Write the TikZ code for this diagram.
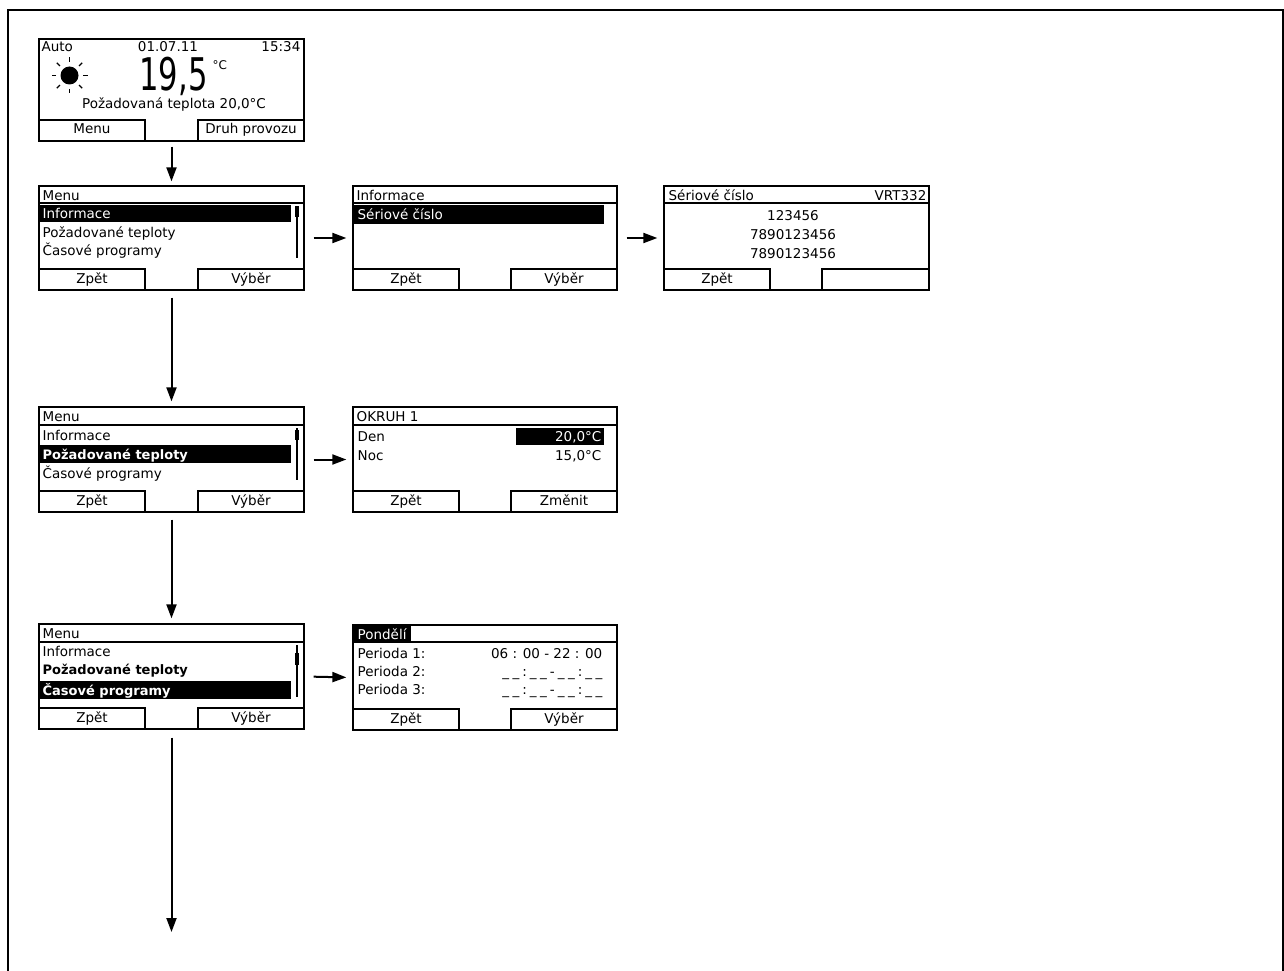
\documentclass[tikz,border=0pt]{standalone}
\usepackage{graphicx}
\usepackage{fontspec}
\setmainfont{DejaVu Sans}
\usetikzlibrary{arrows.meta,positioning}

\newcommand{\blank}{\_\kern3.5pt\_}

\begin{document}
\begin{tikzpicture}[x=1pt, y=-1pt, line width=1.3pt,
    screen/.style={draw,rectangle,minimum width=265pt,minimum height=104pt,inner sep=0pt},
    softkey/.style={draw,rectangle,minimum width=106pt,minimum height=21pt,inner sep=0pt,
                    text height=9.5pt,text depth=2.5pt,font=\fontsize{13.5}{13.5}\selectfont},
    txt/.style={inner sep=0pt,font=\fontsize{13.5}{13.5}\selectfont},
    hl/.style={txt,text=white},
    go/.style={-{Triangle[length=14pt,width=10pt]},line width=2pt}]

  \useasboundingbox (0,0) rectangle (1284,971);
  \draw[line width=2.5pt] (8,985) -- (8,10) -- (1283,10) -- (1283,985);

  % home screen
  \node[screen,minimum height=102pt] (home) at (171.5,90) {};
  \node[txt,anchor=base west] (auto) at (41,52) {Auto};
  \node[txt,anchor=base] (date) at (168,52) {01.07.11};
  \node[txt,anchor=base east] (time) at (301,52) {15:34};
  \fill (69.5,75.5) circle (9pt);
  \foreach \a in {0,45,...,315}
    \draw[line width=1.3pt] (69.5,75.5) ++(\a:13.5) -- ++(\a:4.5);
  \node[inner sep=0pt,anchor=base,text depth=0pt] (temp) at (173.5,91)
    {\scalebox{0.68}[1]{\fontsize{45}{45}\selectfont 19,5}};
  \node[inner sep=0pt,anchor=base west,font=\fontsize{12}{12}\selectfont] (unit) at (212,70) {°C};
  \node[txt,anchor=base] (setp) at (174,109) {Požadovaná teplota 20,0°C};
  \node[softkey,anchor=south west] (home-l) at (home.south west) {Menu};
  \node[softkey,anchor=south east] (home-r) at (home.south east) {Druh provozu};

  % menu, Informace
  \node[screen] (menuA) at (171.5,238) {};
  \draw (39,203) -- (304,203);
  \node[txt,anchor=base west] (menuA-t) at (42,200) {Menu};
  \fill (40,205) rectangle (291,222);
  \node[hl,anchor=base west] (menuA-1) at (42,218) {Informace};
  \node[txt,anchor=base west] (menuA-2) at (42,237) {Požadované teploty};
  \node[txt,anchor=base west] (menuA-3) at (42,255) {Časové programy};
  \draw (297,206) -- (297,258);
  \fill (295,206) rectangle (299,217);
  \node[softkey,anchor=south west] (menuA-l) at (menuA.south west) {Zpět};
  \node[softkey,anchor=south east] (menuA-r) at (menuA.south east) {Výběr};

  % Informace
  \node[screen,minimum width=264pt] (info) at (485,238) {};
  \draw (353,203) -- (617,203);
  \node[txt,anchor=base west] (info-t) at (356,200) {Informace};
  \fill (354,205) rectangle (604,224);
  \node[hl,anchor=base west] (info-1) at (357,219) {Sériové číslo};
  \node[softkey,anchor=south west] (info-l) at (info.south west) {Zpět};
  \node[softkey,anchor=south east] (info-r) at (info.south east) {Výběr};

  % serial number
  \node[screen] (serial) at (796.5,238) {};
  \draw (664,203) -- (929,203);
  \node[txt,anchor=base west] (serial-t) at (668,200) {Sériové číslo};
  \node[txt,anchor=base east] (serial-v) at (927,200) {VRT332};
  \node[txt,anchor=base] (serial-1) at (793,220) {123456};
  \node[txt,anchor=base] (serial-2) at (793,239) {7890123456};
  \node[txt,anchor=base] (serial-3) at (793,258) {7890123456};
  \node[softkey,anchor=south west] (serial-l) at (serial.south west) {Zpět};
  \node[softkey,anchor=south east,minimum width=107pt] (serial-r) at (serial.south east) {};

  % menu, Pozadovane teploty
  \node[screen,minimum height=105pt] (menuB) at (171.5,459.5) {};
  \draw (39,425) -- (304,425);
  \node[txt,anchor=base west] (menuB-t) at (42,421) {Menu};
  \node[txt,anchor=base west] (menuB-1) at (42,440) {Informace};
  \fill (40,445) rectangle (291,463);
  \node[hl,anchor=base west,font=\fontsize{13}{13}\bfseries] (menuB-2) at (42,459) {Požadované teploty};
  \node[txt,anchor=base west] (menuB-3) at (42,478) {Časové programy};
  \draw (297,428) -- (297,480);
  \fill (295,430) rectangle (299,440);
  \node[softkey,anchor=south west] (menuB-l) at (menuB.south west) {Zpět};
  \node[softkey,anchor=south east] (menuB-r) at (menuB.south east) {Výběr};

  % OKRUH 1
  \node[screen,minimum width=264pt,minimum height=105pt] (okruh) at (485,459.5) {};
  \draw (353,425) -- (617,425);
  \node[txt,anchor=base west] (okruh-t) at (356,421) {OKRUH 1};
  \node[txt,anchor=base west] (okruh-1) at (357,441) {Den};
  \fill (516,428) rectangle (604,445);
  \node[hl,anchor=base east] (okruh-1v) at (602,441) {20,0°C};
  \node[txt,anchor=base west] (okruh-2) at (357,460) {Noc};
  \node[txt,anchor=base east] (okruh-2v) at (602,460) {15,0°C};
  \node[softkey,anchor=south west] (okruh-l) at (okruh.south west) {Zpět};
  \node[softkey,anchor=south east] (okruh-r) at (okruh.south east) {Změnit};

  % menu, Casove programy
  \node[screen,minimum height=105pt] (menuC) at (171.5,676.5) {};
  \draw (39,642) -- (304,642);
  \node[txt,anchor=base west] (menuC-t) at (42,638) {Menu};
  \node[txt,anchor=base west] (menuC-1) at (42,656) {Informace};
  \node[txt,anchor=base west,font=\fontsize{13}{13}\bfseries] (menuC-2) at (42,674) {Požadované teploty};
  \fill (40,681) rectangle (291,699);
  \node[hl,anchor=base west,font=\fontsize{13}{13}\bfseries] (menuC-3) at (42,695) {Časové programy};
  \draw (297,645) -- (297,697);
  \fill (295,653) rectangle (299,665);
  \node[softkey,anchor=south west] (menuC-l) at (menuC.south west) {Zpět};
  \node[softkey,anchor=south east] (menuC-r) at (menuC.south east) {Výběr};

  % Pondeli
  \node[screen,minimum width=264pt,minimum height=105pt] (pond) at (485,677.5) {};
  \draw (353,642) -- (617,642);
  \fill (353,625) rectangle (411,642);
  \node[hl,anchor=base west] (pond-t) at (357,639) {Pondělí};
  \node[txt,anchor=base west] (pond-1) at (357,658) {Perioda 1:};
  \node[txt,anchor=base east] (pond-1v) at (603,658) {06 : 00 - 22 : 00};
  \node[txt,anchor=base west] (pond-2) at (357,676) {Perioda 2:};
  \node[txt,anchor=base east] (pond-2v) at (603,676)
    {\blank\kern3pt:\kern3pt\blank\kern3pt-\kern3pt\blank\kern3pt:\kern3pt\blank};
  \node[txt,anchor=base west] (pond-3) at (357,694) {Perioda 3:};
  \node[txt,anchor=base east] (pond-3v) at (603,694)
    {\blank\kern3pt:\kern3pt\blank\kern3pt-\kern3pt\blank\kern3pt:\kern3pt\blank};
  \node[softkey,anchor=south west] (pond-l) at (pond.south west) {Zpět};
  \node[softkey,anchor=south east] (pond-r) at (pond.south east) {Výběr};

  \coordinate (next) at (171.5,932);

  \draw[go,shorten <=5pt,shorten >=4pt] (home.south) -- (menuA.north);
  \draw[go,shorten <=7pt,shorten >=5pt] (menuA.south) -- (menuB.north);
  \draw[go,shorten <=7pt,shorten >=5pt] (menuB.south) -- (menuC.north);
  \draw[go,shorten <=8pt] (menuC.south) -- (next);
  \draw[go,shorten <=9pt,shorten >=6pt] (menuA.east) -- (info.west);
  \draw[go,shorten <=9pt,shorten >=6pt] (info.east) -- (serial.west);
  \draw[go,shorten <=9pt,shorten >=6pt] (menuB.east) -- (okruh.west);
  \draw[go,shorten <=9pt,shorten >=6pt] (menuC.east) -- (pond.west);
\end{tikzpicture}
\end{document}
